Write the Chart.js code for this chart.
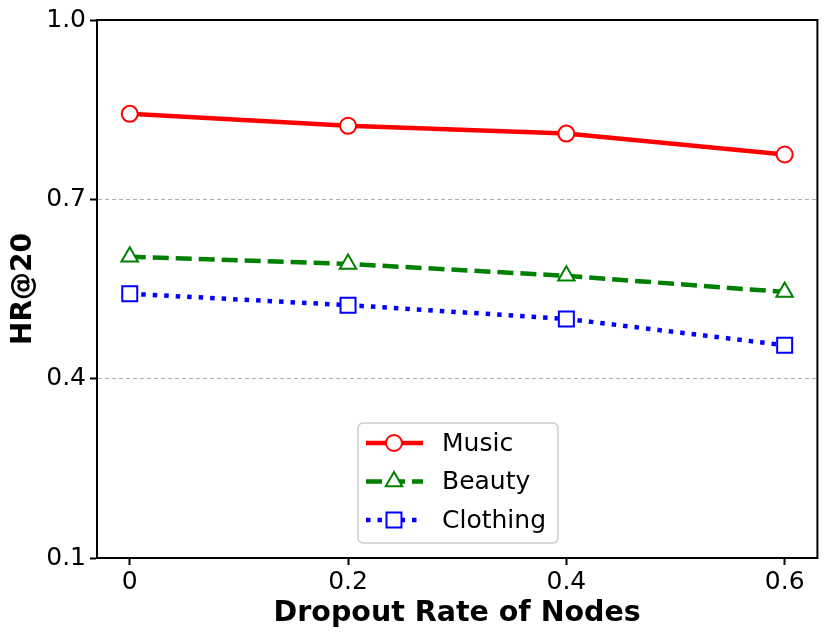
<!DOCTYPE html>
<html>
<head>
<meta charset="utf-8">
<script src="https://cdn.jsdelivr.net/npm/chart.js@4/dist/chart.umd.min.js"></script>
<style>
  html, body { margin: 0; padding: 0; background: #fff; }
  #wrap { width: 830px; height: 640px; }
</style>
</head>
<body>
<div id="wrap"><canvas id="c" width="830" height="640"></canvas></div>
<script>
const xValues = [0, 0.2, 0.4, 0.6];
const xTicks = [0, 0.2, 0.4, 0.6];
const yTicks = [0.1, 0.4, 0.7, 1.0];
const seriesNames = ['Music', 'Beauty', 'Clothing'];
const music = [0.843, 0.823, 0.810, 0.775];
const beauty = [0.604, 0.592, 0.572, 0.545];
const clothing = [0.542, 0.523, 0.500, 0.456];
const xTitle = 'Dropout Rate of Nodes';
const yTitle = 'HR@20';

const FONT = "'DejaVu Sans', sans-serif";

function pts(vals) { return vals.map((v, i) => ({ x: xValues[i], y: v })); }

const styles = [
  { color: '#ff0000', dash: [], point: 'circle', radius: 8 },
  { color: '#008000', dash: [16, 7], point: 'triangle', radius: 9.5 },
  { color: '#0000ff', dash: [4.5, 7], point: 'rect', radius: 10.6 }
];
const seriesData = [music, beauty, clothing];

const datasets = seriesData.map((vals, i) => ({
  label: seriesNames[i],
  data: pts(vals),
  borderColor: styles[i].color,
  backgroundColor: '#ffffff',
  borderWidth: 4.5,
  borderDash: styles[i].dash,
  borderCapStyle: 'butt',
  pointStyle: styles[i].point,
  pointRadius: styles[i].radius,
  pointBorderWidth: 2,
  pointBackgroundColor: '#ffffff',
  pointBorderColor: styles[i].color,
  tension: 0
}));

function drawMarker(ctx, style, x, y, r, color) {
  ctx.save();
  ctx.fillStyle = '#fff';
  ctx.strokeStyle = color;
  ctx.lineWidth = 2;
  ctx.setLineDash([]);
  ctx.beginPath();
  if (style === 'circle') {
    ctx.arc(x, y, r, 0, Math.PI * 2);
  } else if (style === 'triangle') {
    for (let k = 0; k < 3; k++) {
      const a = k * 2 * Math.PI / 3;
      const px = x + Math.sin(a) * r, py = y - Math.cos(a) * r;
      if (k === 0) ctx.moveTo(px, py); else ctx.lineTo(px, py);
    }
    ctx.closePath();
  } else {
    const s = Math.SQRT1_2 * r;
    ctx.rect(x - s, y - s, 2 * s, 2 * s);
  }
  ctx.fill();
  ctx.stroke();
  ctx.restore();
}

const framePlugin = {
  id: 'frame',
  afterDatasetsDraw(chart) {
    const { ctx, chartArea: a } = chart;
    ctx.save();
    ctx.strokeStyle = '#000';
    ctx.lineWidth = 2;
    ctx.strokeRect(a.left, a.top, a.right - a.left, a.bottom - a.top);
    ctx.restore();
  }
};

const legendPlugin = {
  id: 'innerLegend',
  afterDraw(chart) {
    const { ctx } = chart;
    const bx = 358, by = 423, bw = 200, bh = 120, rad = 5;
    ctx.save();
    ctx.fillStyle = 'rgba(255,255,255,0.8)';
    ctx.strokeStyle = '#cccccc';
    ctx.lineWidth = 1.5;
    ctx.beginPath();
    ctx.roundRect(bx, by, bw, bh, rad);
    ctx.fill();
    ctx.stroke();
    chart.data.datasets.forEach((ds, i) => {
      const y = by + 20 + i * 38.5;
      ctx.strokeStyle = ds.borderColor;
      ctx.lineWidth = 4.5;
      ctx.lineCap = 'butt';
      ctx.setLineDash(ds.borderDash || []);
      ctx.beginPath();
      ctx.moveTo(bx + 8, y);
      ctx.lineTo(bx + 65, y);
      ctx.stroke();
      drawMarker(ctx, ds.pointStyle, bx + 36, y, ds.pointRadius, ds.borderColor);
      ctx.setLineDash([]);
      ctx.fillStyle = '#000';
      ctx.font = '25px ' + FONT;
      ctx.textBaseline = 'middle';
      ctx.textAlign = 'left';
      ctx.fillText(ds.label, bx + 84, y + 1);
    });
    ctx.restore();
  }
};

new Chart(document.getElementById('c'), {
  type: 'line',
  data: { datasets },
  options: {
    responsive: false,
    animation: false,
    devicePixelRatio: 1,
    layout: { padding: { top: 20, right: 12, left: 0, bottom: 0 } },
    plugins: { legend: { display: false }, tooltip: { enabled: false } },
    scales: {
      x: {
        type: 'linear',
        min: -0.03,
        max: 0.63,
        afterBuildTicks: s => { s.ticks = xTicks.map(v => ({ value: v })); },
        afterFit: s => { s.height = 82; },
        grid: { drawOnChartArea: false, drawTicks: true, tickLength: 7, tickColor: '#000', tickWidth: 2 },
        border: { display: true, color: '#000', width: 2 },
        ticks: {
          color: '#000', padding: 2, maxRotation: 0, autoSkip: false,
          font: { family: FONT, size: 25 },
          callback: v => (Math.abs(v) < 1e-9 ? '0' : String(Math.round(v * 10) / 10))
        },
        title: { display: true, text: xTitle, color: '#000', padding: { top: 0, bottom: 9 },
          font: { family: FONT, size: 28.5, weight: 'bold' } }
      },
      y: {
        min: 0.1,
        max: 1.0,
        afterBuildTicks: s => { s.ticks = yTicks.map(v => ({ value: v })); },
        afterFit: s => { s.width = 97; },
        grid: {
          color: c => {
            const v = c.tick ? c.tick.value : null;
            return (v !== null && (Math.abs(v - 0.4) < 1e-6 || Math.abs(v - 0.7) < 1e-6)) ? '#b0b0b0' : 'rgba(0,0,0,0)';
          },
          lineWidth: 1, drawTicks: true, tickLength: 7, tickColor: '#000', tickWidth: 2, tickBorderDash: []
        },
        border: { display: true, color: '#000', width: 2, dash: [4, 3] },
        ticks: {
          color: '#000', padding: 4, autoSkip: false,
          font: { family: FONT, size: 25 },
          callback: v => v.toFixed(1)
        },
        title: { display: true, text: yTitle, color: '#000', padding: { top: 7, bottom: 0 },
          font: { family: FONT, size: 28, weight: 'bold' } }
      }
    }
  },
  plugins: [framePlugin, legendPlugin]
});
</script>
</body>
</html>
